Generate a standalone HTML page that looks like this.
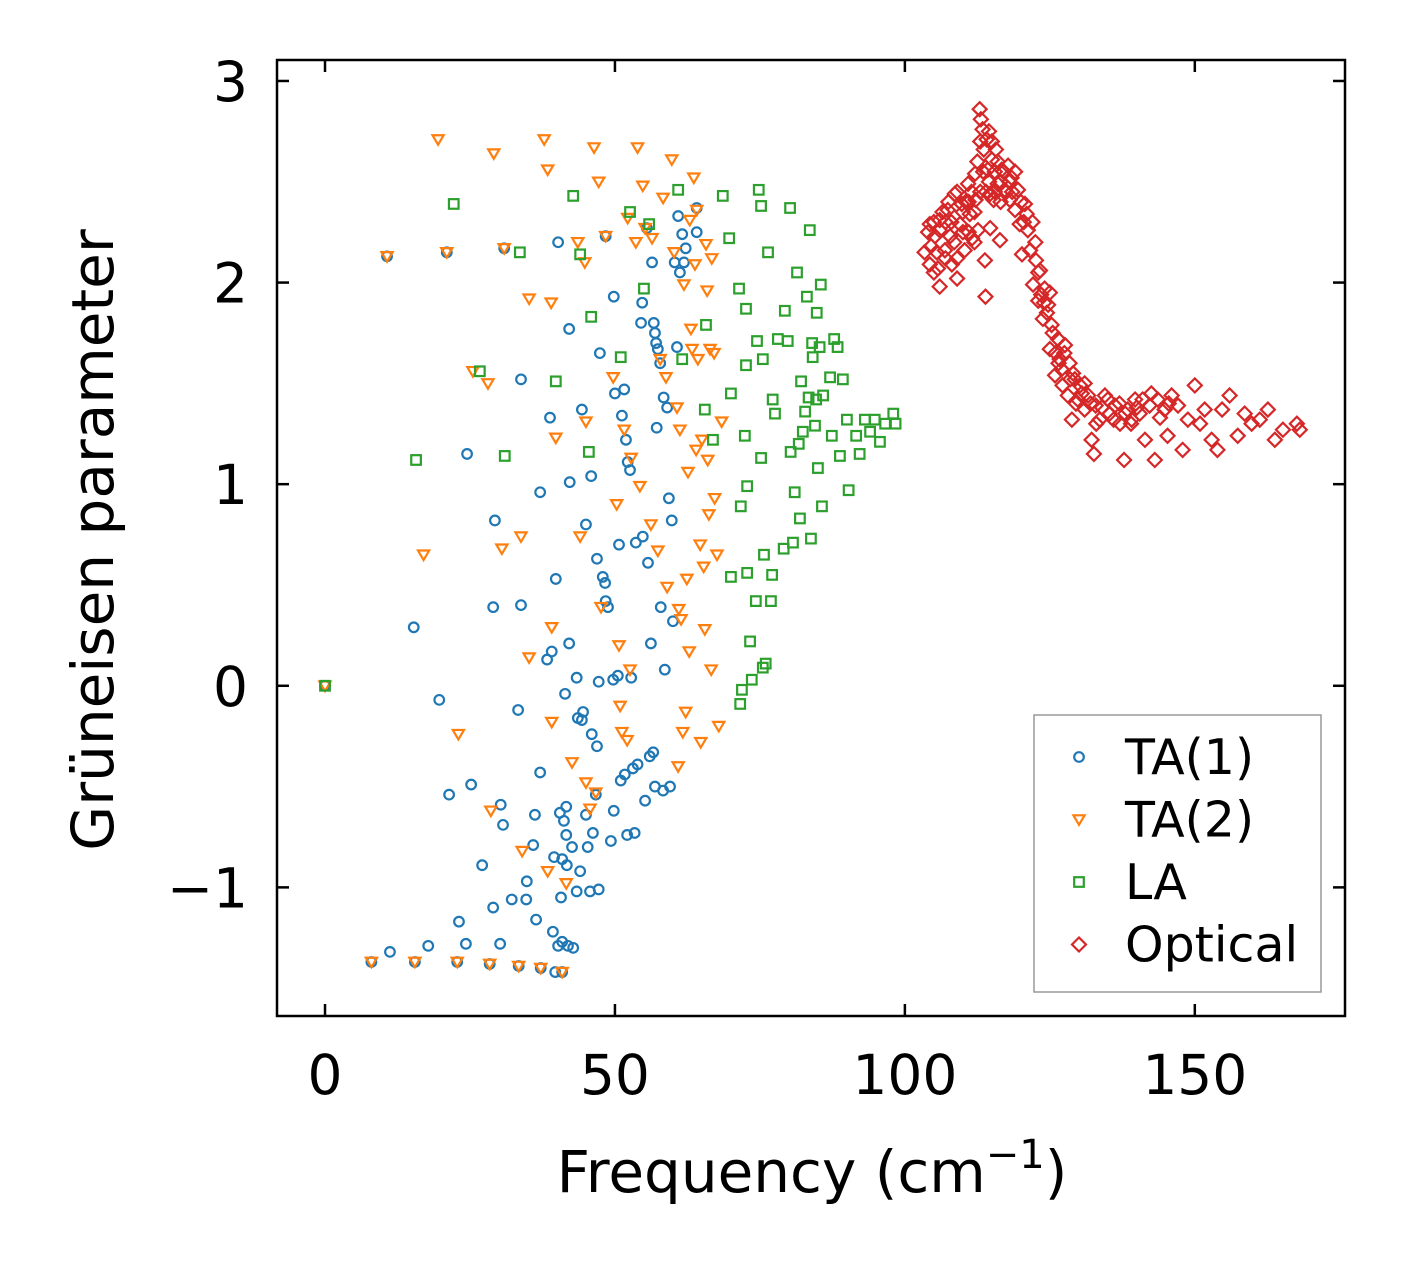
<!DOCTYPE html>
<html><head><meta charset="utf-8"><style>
html,body{margin:0;padding:0;background:#fff;}
svg{display:block;font-family:"DejaVu Sans","Liberation Sans",sans-serif;}
</style></head><body>
<svg id="chart" width="1406" height="1265" viewBox="0 0 1406 1265" xmlns="http://www.w3.org/2000/svg">
<rect width="1406" height="1265" fill="#fff"/>
<g id="marks"></g>
<rect x="277" y="60" width="1068" height="956" fill="none" stroke="#000" stroke-width="2.5"/>
<g id="ticks"></g>
<text x="812" y="1192" font-size="58" text-anchor="middle">Frequency (cm<tspan dy="-24" font-size="40">−1</tspan><tspan dy="24">)</tspan></text>
<text transform="translate(113,540) rotate(-90)" font-size="58" text-anchor="middle">Grüneisen parameter</text>
<g>
<rect x="1034" y="715" width="287" height="277" fill="#fff" stroke="#999" stroke-width="1.5"/>
</g>
<g id="legend"></g>
</svg>
<script>
const xTicks=[0,50,100,150];
const yTicks=[3,2,1,0,-1];
const yTickLabels=["3","2","1","0","\u22121"];
const seriesNames=["TA(1)","TA(2)","LA","Optical"];
const seriesColors=["#1f77b4","#ff7f0e","#2ca02c","#d62728"];
const ta1X=[0,8,11.2,15.5,17.8,22.8,28.4,33.4,37.2,39.7,40.9,10.7,21,30.9,40.2,48.4,15.3,19.7,21.4,24.5,25.2,23.1,24.3,27.1,29,29.3,29,30.3,30.7,30.2,32.2,33.8,33.3,33.8,34.8,34.7,35.9,36.2,36.4,37.1,37.1,38.3,38.8,39.1,39.3,39.5,39.8,40.2,40.5,40.7,40.9,40.9,41.2,41.4,41.6,41.6,41.7,41.9,42.1,42.1,42.2,42.6,42.8,43.4,43.4,43.6,44,44.3,44.3,44.5,45,45,45.3,45.7,45.9,46,46.2,46.7,46.9,46.9,47.2,47.2,47.4,47.9,48.3,48.4,48.8,49.3,49.7,49.8,49.8,50,50.5,50.7,51,51.2,51.6,51.7,51.9,52.1,52.2,52.6,52.8,53.1,53.4,53.6,53.9,54.5,54.7,54.8,55.2,55.5,55.7,56,56.2,56.4,56.6,56.7,56.9,57.2,57.8,57.9,58.3,58.4,58.6,59,59.3,59.5,59.8,60,60.3,60.7,60.9,61.2,61.6,61.9,62.2,64.1,64.1,56.9,57.1,57.4];
const ta1Y=[0,-1.37,-1.32,-1.37,-1.29,-1.37,-1.38,-1.39,-1.40,-1.42,-1.42,2.13,2.15,2.17,2.2,2.23,0.29,-0.07,-0.54,1.15,-0.49,-1.17,-1.28,-0.89,0.39,0.82,-1.1,-0.59,-0.69,-1.28,-1.06,1.52,-0.12,0.4,-0.97,-1.06,-0.79,-0.64,-1.16,0.96,-0.43,0.13,1.33,0.17,-1.22,-0.85,0.53,-1.29,-0.63,-1.05,-0.86,-1.27,-0.67,-0.04,-0.6,-0.74,-0.89,-1.29,0.21,1.77,1.01,-0.8,-1.3,0.04,-1.02,-0.16,-0.92,1.37,-0.17,-0.13,-0.64,0.8,-0.8,-1.02,1.04,-0.24,-0.73,-0.54,-0.3,0.63,-1.01,0.02,1.65,0.54,0.51,0.42,0.39,-0.77,0.03,-0.62,1.93,1.45,0.05,0.7,-0.47,1.34,1.47,-0.44,1.22,-0.74,1.11,1.07,0.04,-0.41,-0.73,0.71,-0.39,1.8,1.9,0.74,-0.57,2.27,0.61,-0.35,0.21,2.1,-0.33,1.8,-0.5,1.28,1.6,0.39,-0.52,1.43,0.08,1.38,0.93,-0.5,0.82,0.32,2.1,1.68,2.33,2.05,2.24,2.1,2.17,2.37,2.25,1.75,1.7,1.67];
const ta2X=[0,8,10.7,15.5,17,19.5,21,22.8,23,25.5,28.1,28.4,29.1,28.6,30.5,30.9,33.4,33.8,34,35.2,35.2,37.2,37.8,38.4,39,39.1,39.1,39.8,38.4,40.9,41.6,42.6,43.6,44,44.8,45,45,45.7,46.4,46.7,47.2,47.6,48.4,49.7,50.3,50.7,50.9,51.2,51.6,52.1,52.2,52.6,52.8,53.6,53.9,54.3,54.8,55.2,56.2,56.4,57.4,57.8,58.3,58.8,59,59.8,60.2,60.7,61,60.9,61.2,61.4,61.7,61.9,62.2,62.4,62.6,62.8,62.9,63.1,63.3,63.6,63.8,64,64.1,64.3,64.7,64.8,65,65.3,65.5,65.7,65.9,66,66.2,66.4,66.6,66.7,67.1,67.2,67.6,67.9,68.4];
const ta2Y=[0,-1.37,2.13,-1.37,0.65,2.71,2.15,-1.37,-0.24,1.56,1.5,-1.38,2.64,-0.62,0.68,2.17,-1.39,0.74,-0.82,1.92,0.14,-1.40,2.71,2.56,1.9,-0.18,0.29,1.23,-0.92,-1.42,-0.98,-0.38,2.2,0.74,2.1,1.31,-0.48,-0.61,2.67,-0.53,2.5,0.39,2.23,1.53,0.9,0.2,-0.1,-0.23,1.27,-0.27,2.32,0.08,1.13,2.2,2.67,0.99,2.48,2.27,0.8,2.22,0.67,1.62,2.42,1.53,0.49,2.61,2.15,1.38,0.38,-0.4,1.27,0.33,-0.23,1.99,-0.13,0.53,1.06,0.17,2.31,1.77,1.67,2.52,2.09,1.17,2.36,1.62,0.7,-0.28,1.22,0.59,0.28,2.19,1.96,1.12,0.85,1.67,0.08,2.12,1.65,0.93,0.65,-0.2,1.31];
const laX=[0,22.2,15.7,26.7,31,33.6,39.8,42.8,44,45.5,45.9,51,52.6,55,55.9,60.9,61.6,65.7,65.5,66.9,68.6,69.7,70,70,71.4,71.7,72.4,72.6,72.6,72.8,72.8,71.6,71.9,73.3,74.3,74.5,74.8,75.2,75.2,75.5,75.7,76,76.4,76.9,77.1,77.2,77.6,78.1,79.1,79.3,79.8,80.2,80.3,80.7,81,81.4,81.7,81.9,82.1,82.4,82.8,83.1,83.4,83.6,83.8,84,84.1,84.5,84.7,84.8,85,85.3,85.5,85.7,85.9,87.1,87.4,87.8,88.4,88.8,89.3,90,90.3,91.6,92.2,93.1,94,94.8,95.7,96.6,98,98.4,75.5,73.6];
const laY=[0,2.39,1.12,1.56,1.14,2.15,1.51,2.43,2.14,1.16,1.83,1.63,2.35,1.97,2.29,2.46,1.62,1.79,1.37,1.22,2.43,2.22,1.45,0.54,1.97,0.89,1.24,1.87,1.59,0.99,0.56,-0.09,-0.02,0.22,0.42,1.71,2.46,2.38,1.13,1.62,0.65,0.11,2.15,0.42,0.55,1.42,1.35,1.72,0.68,1.86,1.71,2.37,1.16,0.71,0.96,2.05,1.2,0.83,1.51,1.26,1.36,1.93,1.43,2.26,0.73,1.7,1.63,1.29,1.42,1.85,1.08,1.68,1.99,0.89,1.44,1.53,1.24,1.72,1.68,1.14,1.52,1.32,0.97,1.24,1.15,1.32,1.26,1.32,1.21,1.3,1.35,1.3,0.09,0.03];
const optX=[103.4,104.3,104.3,105.2,105.7,106,106.9,107.4,107.8,108.1,108.6,109,109.5,109.8,110.3,110.9,111.2,111.6,112.1,112.2,112.6,112.9,113.1,113.4,113.6,113.8,113.9,114.1,114.3,114.7,114.7,115,115.3,115.7,116,116.4,116.7,117.2,117.8,118.1,118.4,119,119.5,119.8,120.2,120.7,121.2,121.6,122.1,122.6,123,123.3,123.8,124.1,124.7,125,125.3,125.9,126.4,126.7,127.2,127.6,128.1,128.4,128.8,129.3,129.8,130.2,131,131.6,132.2,132.6,132.9,133.6,134.5,135.3,136.2,137.1,137.8,138.4,139.1,139.7,140.5,141.4,142.2,143.1,143.6,144.8,145.3,146,147.1,147.9,148.8,150,150.9,151.7,152.9,153.9,154.7,156,157.4,158.6,159.8,161.2,162.6,163.8,165.2,167.6,168.1,107,110,111,114.5,115.5,116.5,118.5,104.5,106,121,123.5,124.5,126,127,128.5,130.5,134,136,138,140,141,142.5,144,145.5,104,105,105.5,106.5,107.5,108,108.5,109,110,110.5,111.5,112,112.5,113,113.5,114,114.5,115,115.5,116,116.5,117,117.5,118,119,120,120.5,122,122.5,123,124,125,125.5,126.5,127.5,129,129.5,131,132,133,135,137,139,112,111,109,107,105,106,113];
const optY=[2.15,2.09,2.29,2.23,2.07,2.31,2.16,2.36,2.23,2.09,2.44,2.02,2.29,2.39,2.16,2.49,2.34,2.22,2.54,2.41,2.26,2.86,2.81,2.76,2.66,2.11,1.93,2.71,2.56,2.44,2.27,2.61,2.41,2.66,2.49,2.21,2.56,2.46,2.58,2.41,2.52,2.36,2.46,2.29,2.14,2.39,2.26,2.16,1.99,2.11,1.91,2.06,1.82,1.97,1.89,1.67,1.79,1.54,1.72,1.62,1.49,1.69,1.44,1.6,1.32,1.52,1.42,1.49,1.37,1.44,1.22,1.15,1.39,1.32,1.44,1.35,1.39,1.3,1.12,1.37,1.32,1.42,1.35,1.22,1.39,1.12,1.42,1.37,1.24,1.44,1.39,1.17,1.32,1.49,1.3,1.37,1.22,1.17,1.37,1.44,1.24,1.35,1.3,1.32,1.37,1.22,1.27,1.3,1.27,2.3,2.35,2.4,2.5,2.55,2.5,2.45,2.18,2.26,2.34,1.94,1.85,1.65,1.57,1.52,1.45,1.38,1.32,1.35,1.38,1.42,1.45,1.33,1.4,2.25,2.3,2.15,2.35,2.4,2.3,2.2,2.45,2.25,2.4,2.45,2.35,2.6,2.7,2.55,2.45,2.75,2.7,2.45,2.6,2.4,2.55,2.45,2.5,2.55,2.4,2.3,2.3,2.2,2.05,1.9,1.95,1.75,1.6,1.65,1.55,1.4,1.5,1.4,1.3,1.42,1.4,1.3,2.2,2.25,2.12,2.12,2.05,1.98,2.45];

const NS="http://www.w3.org/2000/svg";
const X0=277,X1=1345,Y0=60,Y1=1016;
const xMin=-8.28,xMax=175.9,yMin=-1.638,yMax=3.104;
function sx(v){return X0+(v-xMin)/(xMax-xMin)*(X1-X0);}
function sy(v){return Y1-(v-yMin)/(yMax-yMin)*(Y1-Y0);}
function mk(tag,attrs,parent){const e=document.createElementNS(NS,tag);for(const k in attrs)e.setAttribute(k,attrs[k]);parent.appendChild(e);return e;}
function marker(kind,cx,cy,color,parent){
  let e;
  if(kind===0){e=mk('circle',{cx:cx,cy:cy,r:4.8},parent);}
  else if(kind===1){e=mk('polygon',{points:`${cx-5.6},${cy-4.2} ${cx+5.6},${cy-4.2} ${cx},${cy+5.3}`},parent);}
  else if(kind===2){e=mk('rect',{x:cx-4.8,y:cy-4.8,width:9.6,height:9.6},parent);}
  else {e=mk('polygon',{points:`${cx},${cy-7} ${cx+7},${cy} ${cx},${cy+7} ${cx-7},${cy}`},parent);}
  e.setAttribute('fill','none');e.setAttribute('stroke',color);e.setAttribute('stroke-width','2.2');
  return e;
}
const marks=document.getElementById('marks');
const allX=[ta1X,ta2X,laX,optX],allY=[ta1Y,ta2Y,laY,optY],names=['ta1-point','ta2-point','la-point','optical-point'];
for(let s=0;s<4;s++){
  const g=mk('g',{},marks);
  
  
  for(let i=0;i<allX[s].length;i++){
    const e=marker(s,sx(allX[s][i]),sy(allY[s][i]),seriesColors[s],g);
    
    
  }
}
const tk=document.getElementById('ticks');
xTicks.forEach(v=>{
  const x=sx(v);
  const t1=mk('line',{x1:x,x2:x,y1:Y1,y2:Y1-12,stroke:'#000','stroke-width':2.5},tk);
  
  
  const t2=mk('line',{x1:x,x2:x,y1:Y0,y2:Y0+12,stroke:'#000','stroke-width':2.5},tk);
  
  
  const l=mk('text',{x:x,y:1094,'font-size':55,'text-anchor':'middle'},tk);
  l.textContent=String(v);
  
  
});
yTicks.forEach((v,i)=>{
  const y=sy(v);
  const t1=mk('line',{x1:X0,x2:X0+12,y1:y,y2:y,stroke:'#000','stroke-width':2.5},tk);
  
  
  const t2=mk('line',{x1:X1,x2:X1-12,y1:y,y2:y,stroke:'#000','stroke-width':2.5},tk);
  
  
  const l=mk('text',{x:248,y:y+20,'font-size':55,'text-anchor':'end'},tk);
  l.textContent=yTickLabels[i];
  
  
});
const lg=document.getElementById('legend');
seriesNames.forEach((n,i)=>{
  const y=757+i*62.5;
  const g=mk('g',{},lg);
  
  
  marker(i,1079,y,seriesColors[i],g);
  const t=mk('text',{x:1125,y:y+17,'font-size':49},g);
  t.textContent=n;
});
</script>
</body></html>
